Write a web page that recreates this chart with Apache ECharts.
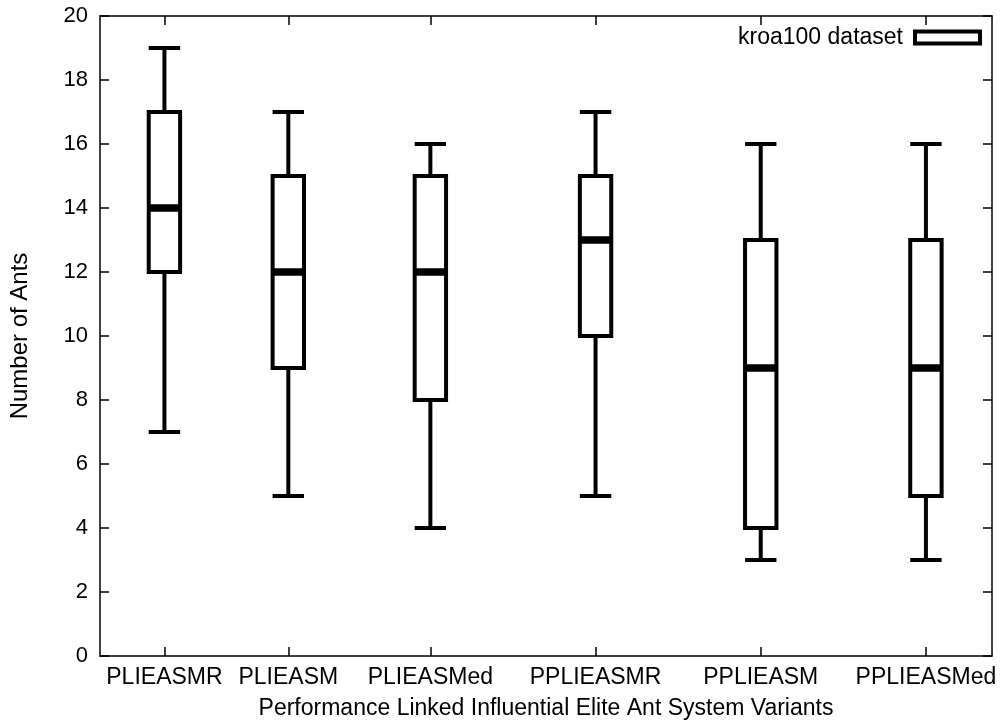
<!DOCTYPE html>
<html>
<head>
<meta charset="utf-8">
<script src="https://cdn.jsdelivr.net/npm/echarts@6/dist/echarts.min.js"></script>
<style>
html,body{margin:0;padding:0;background:#fff;}
#chart{width:1008px;height:728px;}
</style>
</head>
<body>
<div id="chart"></div>
<script>
var categories = ['PLIEASMR', 'PLIEASM', 'PLIEASMed', 'PPLIEASMR', 'PPLIEASM', 'PPLIEASMed'];
var positions = [0.39, 1.14, 2, 3, 4, 5];
var mins    = [7, 5, 4, 5, 3, 3];
var q1s     = [12, 9, 8, 10, 4, 5];
var medians = [14, 12, 12, 13, 9, 9];
var q3s     = [17, 15, 15, 15, 13, 13];
var maxs    = [19, 17, 16, 17, 16, 16];
var yTicks  = [0, 2, 4, 6, 8, 10, 12, 14, 16, 18, 20];
var seriesName = 'kroa100 dataset';

var data = positions.map(function (p, i) {
  return [p, mins[i], q1s[i], medians[i], q3s[i], maxs[i]];
});

var BOX_W = 0.19;
var FONT = 'Liberation Sans, Arial, Helvetica, sans-serif';

function renderItem(params, api) {
  var x = api.value(0);
  var pMin = api.coord([x, api.value(1)]);
  var pQ1 = api.coord([x, api.value(2)]);
  var pMed = api.coord([x, api.value(3)]);
  var pQ3 = api.coord([x, api.value(4)]);
  var pMax = api.coord([x, api.value(5)]);
  var hw = api.size([BOX_W, 0])[0] / 2;
  var cx = pMin[0];
  var ls = {stroke: '#000', lineWidth: 4, fill: null};
  return {
    type: 'group',
    children: [
      {type: 'line', shape: {x1: cx, y1: pMax[1], x2: cx, y2: pQ3[1]}, style: ls},
      {type: 'line', shape: {x1: cx, y1: pQ1[1], x2: cx, y2: pMin[1]}, style: ls},
      {type: 'line', shape: {x1: cx - hw, y1: pMax[1], x2: cx + hw, y2: pMax[1]}, style: ls},
      {type: 'line', shape: {x1: cx - hw, y1: pMin[1], x2: cx + hw, y2: pMin[1]}, style: ls},
      {type: 'rect', shape: {x: cx - hw, y: pQ3[1], width: 2 * hw, height: pQ1[1] - pQ3[1]},
        style: {stroke: '#000', lineWidth: 4, fill: '#fff'}},
      {type: 'line', shape: {x1: cx - hw, y1: pMed[1], x2: cx + hw, y2: pMed[1]},
        style: {stroke: '#000', lineWidth: 7.5}}
    ]
  };
}

var chart = echarts.init(document.getElementById('chart'), null, {renderer: 'canvas'});
var axisLine = {show: true, onZero: false, lineStyle: {color: '#000', width: 1.5}};
chart.setOption({
  animation: false,
  backgroundColor: '#fff',
  grid: {left: 100, right: 16, top: 16, bottom: 72, containLabel: false},
  legend: {
    right: 21, top: 21,
    align: 'right',
    itemWidth: 65, itemHeight: 12,
    textStyle: {fontFamily: FONT, fontSize: 23, color: '#000', padding: [0, 7, 0, 0]},
    data: [{name: seriesName, icon: 'rect', itemStyle: {color: '#fff', borderColor: '#000', borderWidth: 4}}]
  },
  xAxis: [{
    type: 'value', position: 'bottom', min: 0, max: 5.4,
    name: 'Performance Linked Influential Elite Ant System Variants',
    nameLocation: 'middle', nameGap: 41,
    nameTextStyle: {fontFamily: FONT, fontSize: 23, color: '#000'},
    axisLine: axisLine,
    axisTick: {show: true, inside: true, length: 9, customValues: positions, lineStyle: {color: '#000', width: 1.5}},
    axisLabel: {show: true, customValues: positions, margin: 10, fontFamily: FONT, fontSize: 23, color: '#000',
      formatter: function (v) { var i = positions.indexOf(v); return i >= 0 ? categories[i] : ''; }},
    splitLine: {show: false}
  }, {
    type: 'value', position: 'top', min: 0, max: 5.4,
    axisLine: axisLine,
    axisTick: {show: true, inside: true, length: 9, customValues: positions, lineStyle: {color: '#000', width: 1.5}},
    axisLabel: {show: false},
    splitLine: {show: false}
  }],
  yAxis: [{
    type: 'value', position: 'left', min: 0, max: 20, interval: 2,
    name: 'Number of Ants', nameLocation: 'middle', nameGap: 68, nameRotate: 90,
    nameTextStyle: {fontFamily: FONT, fontSize: 24, color: '#000'},
    axisLine: axisLine,
    axisTick: {show: true, inside: true, length: 9, lineStyle: {color: '#000', width: 1.5}},
    axisLabel: {show: true, margin: 12, fontFamily: FONT, fontSize: 22, color: '#000',
      customValues: yTicks},
    splitLine: {show: false}
  }, {
    type: 'value', position: 'right', min: 0, max: 20, interval: 2,
    axisLine: axisLine,
    axisTick: {show: true, inside: true, length: 9, lineStyle: {color: '#000', width: 1.5}},
    axisLabel: {show: false},
    splitLine: {show: false}
  }],
  series: [{
    name: seriesName,
    type: 'custom',
    xAxisIndex: 0, yAxisIndex: 0,
    renderItem: renderItem,
    itemStyle: {color: '#fff', borderColor: '#000', borderWidth: 4},
    encode: {x: 0, y: [1, 2, 3, 4, 5]},
    data: data,
    clip: false,
    z: 1
  }]
});
</script>
</body>
</html>
